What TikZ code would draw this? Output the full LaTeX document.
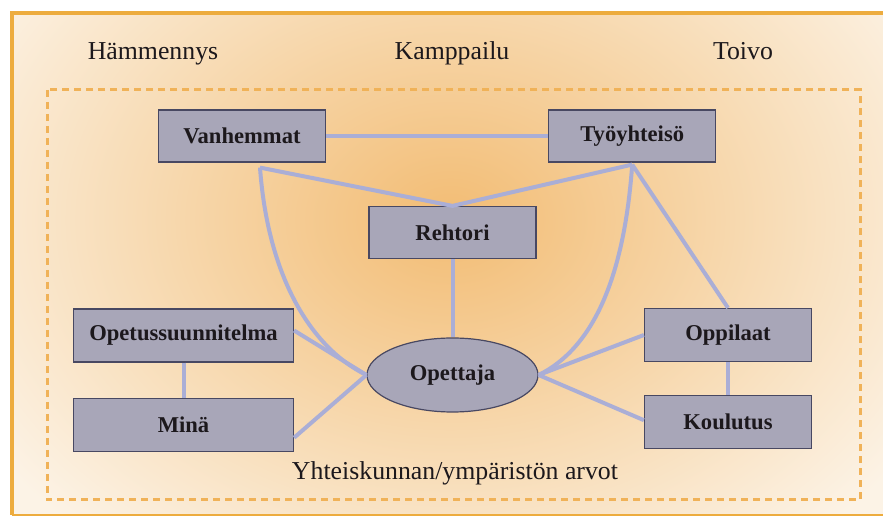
\documentclass[tikz,border=0pt]{standalone}
\usepackage{fontspec}
\setmainfont{Liberation Serif}
\usetikzlibrary{positioning}
\usetikzlibrary{calc}
\usetikzlibrary{shapes.geometric}

\definecolor{paper}{RGB}{252,243,230}
\definecolor{glow}{RGB}{242,188,115}
\definecolor{frameorange}{RGB}{237,172,62}
\definecolor{dotorange}{RGB}{240,178,88}
\definecolor{boxgray}{RGB}{168,166,184}
\definecolor{boxline}{RGB}{72,72,98}
\definecolor{linkblue}{RGB}{170,174,214}
\definecolor{ink}{RGB}{28,24,28}

\tikzset{
  factor/.style={rectangle, draw=boxline, line width=0.6pt, fill=boxgray, inner sep=0pt,
    minimum width=83.5pt, minimum height=26pt, text=ink,
    font=\fontsize{11.3}{13}\selectfont\bfseries},
  widefactor/.style={factor, minimum width=110pt, minimum height=26.5pt},
  core/.style={ellipse, draw=boxline, line width=0.6pt, fill=boxgray, inner sep=0pt,
    minimum width=85.5pt, minimum height=37pt, text=ink,
    font=\fontsize{11.3}{13}\selectfont\bfseries},
  link/.style={draw=linkblue, line width=2pt},
  stage/.style={text=ink, anchor=base, font=\fontsize{12.9}{15}\selectfont},
}

\begin{document}
\begin{tikzpicture}[x=0.5pt,y=-0.5pt]
        \useasboundingbox[fill=white] (0,0) rectangle (883,517);
        % background and frames
        \begin{scope}
          \clip (12,13) rectangle (883,515);
          \fill[paper] (12,13) rectangle (883,515);
          \shade[inner color=glow, outer color=paper] (-100,-200) rectangle (1000,640);
        \end{scope}
        \draw[frameorange, line width=2pt] (883,13) -- (12,13) -- (12,515);
        \draw[frameorange, line width=1pt] (12,515) -- (883,515);
        \draw[dotorange, line width=1.5pt, dash pattern=on 3.5pt off 2.5pt] (47,90) rectangle (860,500);

        % stages
        \node[stage] (hammennys) at (153,60) {Hämmennys};
        \node[stage] (kamppailu) at (452,60) {Kamppailu};
        \node[stage] (toivo) at (743,60) {Toivo};
        \node[stage] (arvot) at (455,480) {Yhteiskunnan/ympäristön arvot};

        % Define nodes
        \node[factor] (vanhemmat) at (242,136) {Vanhemmat}; %
        \node[factor, right=111pt of vanhemmat] (tyoyhteiso) {Työyhteisö}; %
        \node[factor] (rehtori) at (452.5,232.5) {Rehtori}; %
        \node[widefactor] (opetus) at (183.5,335.5) {Opetussuunnitelma}; %
        \node[widefactor, below=17.5pt of opetus] (mina) {Minä}; %
        \node[core] (opettaja) at (452.5,375) {Opettaja}; %
        \node[factor, minimum height=26.5pt] (oppilaat) at (728,335) {Oppilaat}; %
        \node[factor, minimum height=26.5pt, below=16.5pt of oppilaat] (koulutus) {Koulutus}; %

        \coordinate (vfoot) at ([xshift=9pt,yshift=-2.5pt]vanhemmat.south);
        \coordinate (tfoot) at ([yshift=-1pt]tyoyhteiso.south);

        % connectors
        \draw[link] (vanhemmat) -- (tyoyhteiso);
        \draw[link] (vfoot) -- (rehtori.north) -- (tfoot);
        \draw[link] (tfoot) -- (oppilaat.north);
        \draw[link] (rehtori) -- (opettaja);
        \draw[link] (vfoot) .. controls ($(vfoot)+(8,110)$) and ($(opettaja.west)+(-55,-27)$) .. (opettaja.west);
        \draw[link] (tfoot) .. controls ($(tfoot)+(-8,112)$) and ($(opettaja.east)+(55,-27)$) .. (opettaja.east);
        \draw[link] ([yshift=2.5pt]opetus.east) -- (opettaja.west);
        \draw[link] ([yshift=-6.5pt]mina.east) -- (opettaja.west);
        \draw[link] (opettaja.east) -- (oppilaat.west);
        \draw[link] (opettaja.east) -- ([yshift=1pt]koulutus.west);
        \draw[link] (opetus) -- (mina);
        \draw[link] (oppilaat) -- (koulutus);
    \end{tikzpicture}
\end{document}
